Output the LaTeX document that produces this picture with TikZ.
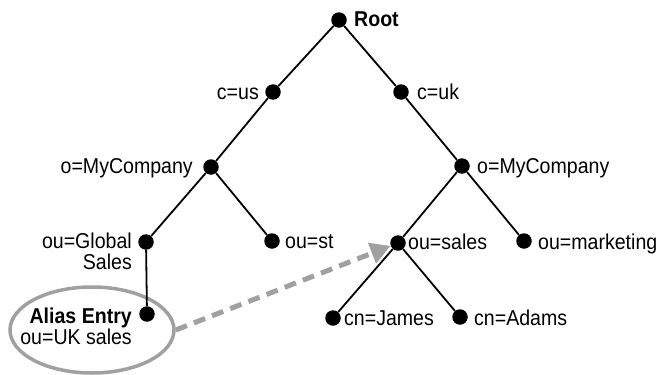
\documentclass[tikz,border=0pt]{standalone}
\usepackage{fontspec}
\setmainfont[FakeStretch=0.91]{Liberation Sans}
\usetikzlibrary{arrows.meta,shapes.geometric}
\definecolor{aliasgray}{RGB}{160,160,160}
\begin{document}
\begin{tikzpicture}[x=1pt,y=-1pt,
  dot/.style={circle,fill=black,inner sep=0pt,minimum size=15.5pt},
  edge/.style={line width=1.8pt,black},
  lbl/.style={inner sep=0pt,font=\fontsize{21.5}{23}\selectfont},
  lblb/.style={inner sep=0pt,font=\fontsize{21.5}{23}\selectfont\bfseries},
  ring/.style={ellipse,draw=aliasgray,line width=3.5pt,minimum width=164pt,minimum height=86pt,inner sep=0pt},
  aliasarrow/.style={draw=aliasgray,line width=5pt,dash pattern=on 12pt off 7.5pt,-{Triangle[length=20pt,width=21pt,fill=aliasgray]}}
]
\useasboundingbox (0,0) rectangle (662,375);
% alias ellipse
\node[ring] (alias) at (92,330) {};
% dots
\node[dot] (root) at (339,20) {};
\node[dot] (cus) at (273,92) {};
\node[dot] (cuk) at (401,92) {};
\node[dot] (myl) at (211,167) {};
\node[dot] (myr) at (462,166) {};
\node[dot] (global) at (146,242) {};
\node[dot] (st) at (272,241) {};
\node[dot] (sales) at (398,243) {};
\node[dot] (mkt) at (524,241) {};
\node[dot] (aliasdot) at (147,314) {};
\node[dot] (james) at (333,318) {};
\node[dot] (adams) at (460,317) {};
% edges
\draw[edge] (root) -- (cus);
\draw[edge] (root) -- (cuk);
\draw[edge] (cus) -- (myl);
\draw[edge] (cuk) -- (myr);
\draw[edge] (myl) -- (global);
\draw[edge] (myl) -- (st);
\draw[edge] (myr) -- (sales);
\draw[edge] (myr) -- (mkt);
\draw[edge] (sales) -- (james);
\draw[edge] (sales) -- (adams);
\draw[edge] (global) -- (aliasdot);
% alias arrow
\draw[aliasarrow] (alias.east) -- (sales);
% labels
\node[lblb,anchor=base west] (lroot) at (354,26) {Root};
\node[lbl,anchor=base east] (lcus) at (259,99) {c=us};
\node[lbl,anchor=base west] (lcuk) at (417,99) {c=uk};
\node[lbl,anchor=base east] (lmyl) at (193,173) {o=MyCompany};
\node[lbl,anchor=base west] (lmyr) at (477,173) {o=MyCompany};
\node[lbl,anchor=base east] (lglobal) at (132,248) {ou=Global};
\node[lbl,anchor=base east] (lglobal2) at (132,269) {Sales};
\node[lbl,anchor=base west] (lst) at (285,248) {ou=st};
\node[lbl,anchor=base west] (lsales) at (408,249) {ou=sales};
\node[lbl,anchor=base west] (lmkt) at (538,249) {ou=marketing};
\node[lbl,anchor=base west] (ljames) at (344,325) {cn=James};
\node[lbl,anchor=base west] (ladams) at (474,325) {cn=Adams};
\node[lblb,anchor=base east] (lalias) at (132,323) {Alias Entry};
\node[lbl,anchor=base east] (lalias2) at (132,344) {ou=UK sales};
\end{tikzpicture}
\end{document}
